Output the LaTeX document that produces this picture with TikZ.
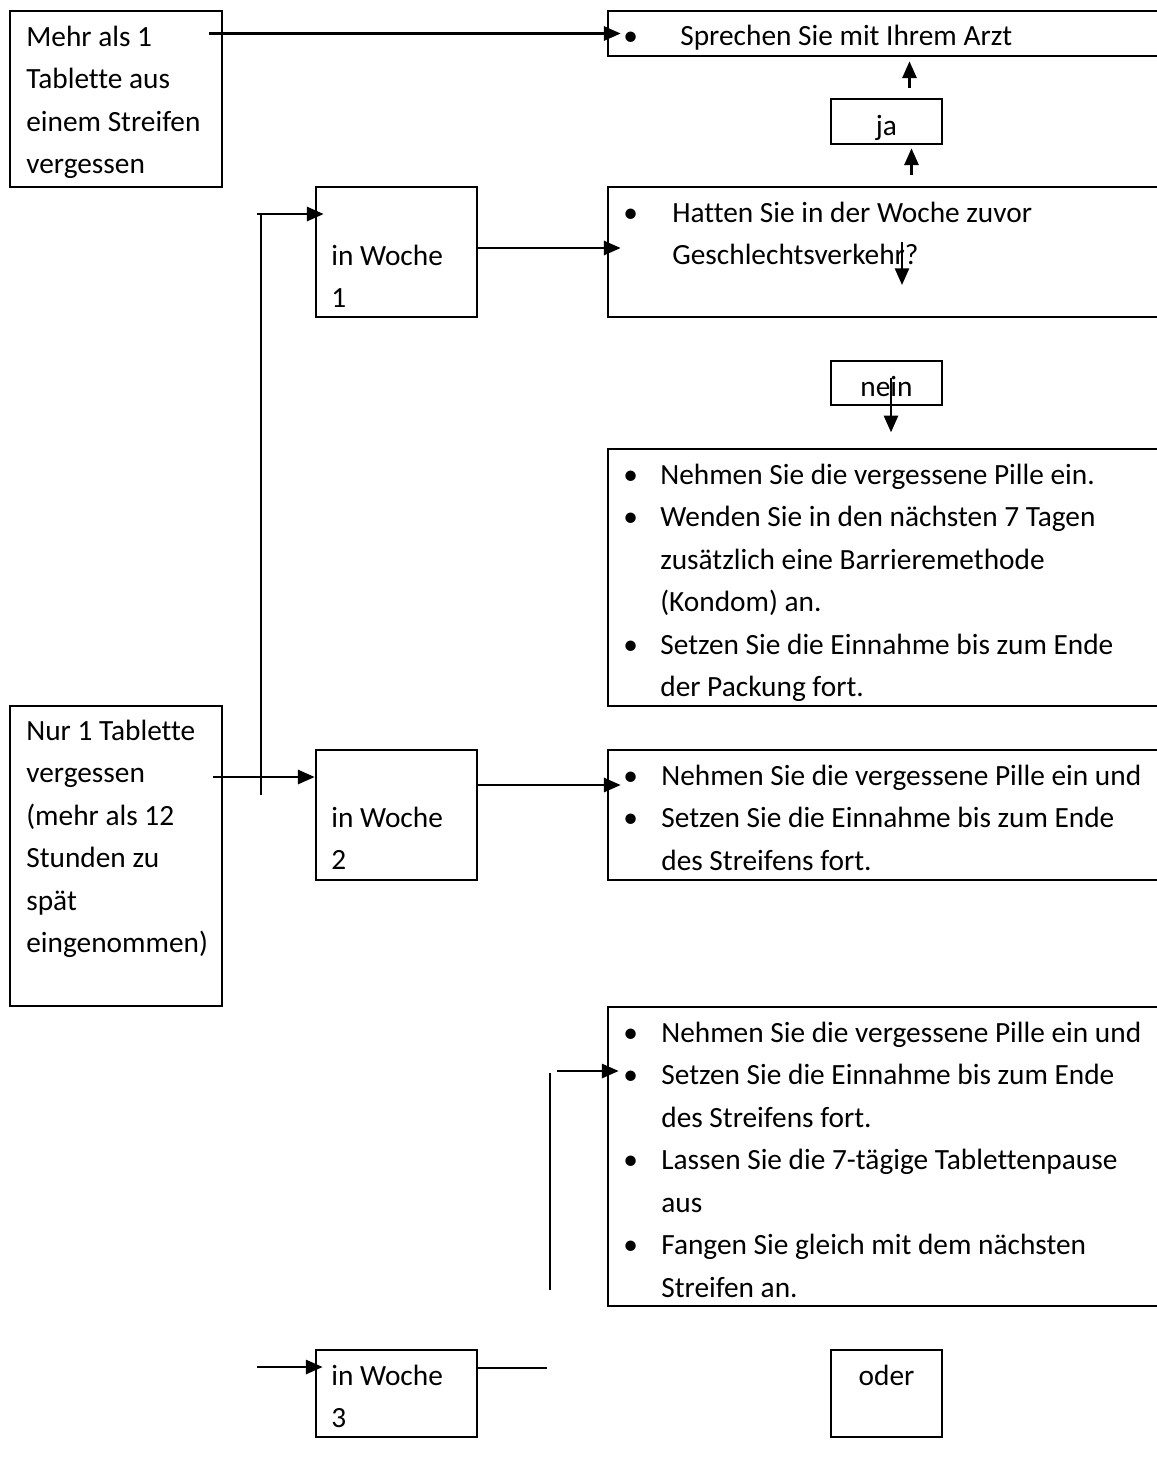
\documentclass[tikz,border=0pt]{standalone}
\usepackage{fontspec}
\setmainfont[Ligatures=NoCommon]{Carlito}
\usetikzlibrary{arrows.meta,calc,fit}
\newcommand{\fs}{\fontsize{16.7pt}{24.2pt}\selectfont}
\newcommand{\bul}[1]{\makebox[#1][l]{•}}
\newcommand{\skipin}[1]{\hspace*{#1}}
\tikzset{
  box/.style={draw, line width=1.5pt, inner sep=0pt},
  txt/.style={anchor=north west, align=left, inner sep=0pt, font=\fs},
  word/.style={anchor=base, inner sep=0pt, font=\fs},
  line/.style={line width=1.4pt},
  arr/.style={line, -{Triangle[length=9.5pt,width=8pt]}}
}
\begin{document}
\begin{tikzpicture}[x=0.02cm, y=-0.02cm]
  \useasboundingbox (0,0) rectangle (1157,1472);
  \clip (0,0) rectangle (1157,1472);

  % Left side boxes
  \node[box, fit={(10,11) (222,187)}] (A) {};
  \node[box, fit={(10,706) (222,1006)}] (E) {};

  % Week boxes
  \node[box, fit={(316,187) (477,317)}] (W1) {};
  \node[box, fit={(316,750) (477,880)}] (W2) {};
  \node[box, fit={(316,1350) (477,1437)}] (W3) {};

  % Right side boxes
  \node[box, fit={(608,11) (1170,56)}] (B) {};
  \node[box, fit={(608,187) (1170,317)}] (C) {};
  \node[box, fit={(608,449) (1170,706)}] (D) {};
  \node[box, fit={(608,750) (1170,880)}] (F) {};
  \node[box, fit={(608,1007) (1170,1306)}] (G) {};

  % Small answer boxes
  \node[box, fit={(831,99) (942,144)}] (ja) {};
  \node[box, fit={(831,361) (942,405)}] (nein) {};
  \node[box, fit={(831,1350) (942,1437)}] (oder) {};

  % Texts
  \node[txt] (Atx) at (26,16.25) {\strut Mehr als 1\\ Tablette aus\\ einem Streifen\\ vergessen};
  \node[txt] (Etx) at (26,710.25) {\strut Nur 1 Tablette\\ vergessen\\ (mehr als 12\\ Stunden zu\\ spät\\ eingenommen)};
  \node[txt] (W1tx) at (331,235.25) {\strut in Woche\\ 1};
  \node[txt] (W2tx) at (331,797.25) {\strut in Woche\\ 2};
  \node[txt] (W3tx) at (331,1355.25) {\strut in Woche\\ 3};
  \node[txt] (Btx) at (623,15.25) {\strut\bul{1.14cm}Sprechen Sie mit Ihrem Arzt};
  \node[txt] (Ctx) at (623,192.25) {\strut\bul{0.98cm}Hatten Sie in der Woche zuvor\\
    \skipin{0.98cm}Geschlechtsverkehr?};
  \node[txt] (Dtx) at (623,454.25) {\strut\bul{0.74cm}Nehmen Sie die vergessene Pille ein.\\
    \bul{0.74cm}Wenden Sie in den nächsten 7 Tagen\\
    \skipin{0.74cm}zusätzlich eine Barrieremethode\\
    \skipin{0.74cm}(Kondom) an.\\
    \bul{0.74cm}Setzen Sie die Einnahme bis zum Ende\\
    \skipin{0.74cm}der Packung fort.};
  \node[txt] (Ftx) at (623,755.25) {\strut\bul{0.76cm}Nehmen Sie die vergessene Pille ein und\\
    \bul{0.76cm}Setzen Sie die Einnahme bis zum Ende\\
    \skipin{0.76cm}des Streifens fort.};
  \node[txt] (Gtx) at (623,1012.25) {\strut\bul{0.76cm}Nehmen Sie die vergessene Pille ein und\\
    \bul{0.76cm}Setzen Sie die Einnahme bis zum Ende\\
    \skipin{0.76cm}des Streifens fort.\\
    \bul{0.76cm}Lassen Sie die 7-tägige Tablettenpause\\
    \skipin{0.76cm}aus\\
    \bul{0.76cm}Fangen Sie gleich mit dem nächsten\\
    \skipin{0.76cm}Streifen an.};
  \node[word] (jatx) at (886.5,135) {ja};
  \node[word] (neintx) at (886.5,396) {nein};
  \node[word] (odertx) at (886.5,1385) {oder};

  % Free line ends
  \coordinate (v1) at (261,795);
  \coordinate (v2) at (261,214);
  \coordinate (e1) at (213,777);
  \coordinate (g1) at (550,1290);
  \coordinate (g2) at (550,1073);
  \coordinate (g3) at (557,1071);
  \coordinate (w3in) at (257,1367);
  \coordinate (w3out) at (547,1368);
  \coordinate (c1) at (902,242);
  \coordinate (c2) at (902,285);

  % Edges
  \draw[arr, shorten <=-0.28cm, shorten >=-0.28cm] (A.east |- B.west) -- (B.west);
  \draw[line] (v1) -- (v2);
  \draw[arr, shorten >=-0.18cm] ($(v2)+(-4,0)$) -- (v2 -| W1.west);
  \draw[arr] (e1) -- (e1 -| W2.west);
  \draw[arr, shorten >=-0.28cm] (W1.east |- 0,248) -- (C.west |- 0,248);
  \draw[arr, shorten >=-0.28cm] (W2.east |- 0,785) -- (F.west |- 0,785);
  \draw[arr] ($(ja.north)+(23,-10)$) -- ($(ja.north |- B.south)+(23,4)$);
  \draw[arr] ($(ja.south |- C.north)+(25,-11)$) -- ($(ja.south)+(25,3)$);
  \draw[arr] (c1) -- (c2);
  \draw[arr] ($(nein.center)+(4.5,-5)$) -- ($(nein.south)+(4.5,26)$);
  \draw[line] (g1) -- (g2);
  \draw[arr, shorten >=-0.24cm] (g3) -- (g3 -| G.west);
  \draw[arr, shorten >=-0.16cm] (w3in) -- (w3in -| W3.west);
  \draw[line] (W3.east |- w3out) -- (w3out);
\end{tikzpicture}
\end{document}
